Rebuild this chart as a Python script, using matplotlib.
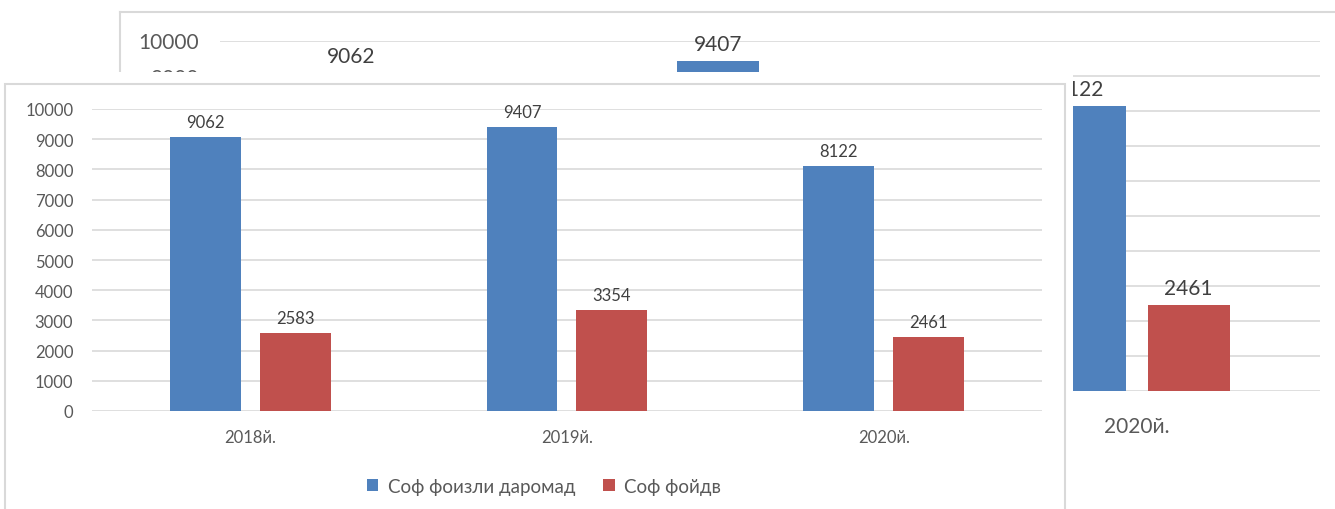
import numpy as np
import matplotlib
matplotlib.use("Agg")
import matplotlib.pyplot as plt
from matplotlib.patches import Rectangle
from matplotlib.lines import Line2D

years = ["2018й.", "2019й.", "2020й."]
income = [9062, 9407, 8122]
profit = [2583, 3354, 2461]
series_names = ["Соф фоизли даромад", "Соф фойдв"]
yticks = list(range(0, 10001, 1000))

BLUE = "#4F81BD"
RED = "#C0504D"
GRID = "#D9D9D9"
TICK = "#595959"
LABEL = "#404040"

plt.rcParams["font.family"] = ["Lato", "DejaVu Sans"]

W, H = 1335, 510
fig = plt.figure(figsize=(W / 100, H / 100), dpi=100)


def box(x0, y0, x1, y1):
    # pixel box (top-left origin) -> figure fraction rect
    return [x0 / W, 1 - y1 / H, (x1 - x0) / W, (y1 - y0) / H]


def draw_chart(ax, fs, pad_y, pad_x):
    x = np.arange(len(years))
    w = 0.224
    off = 0.142
    b1 = ax.bar(x - off, income, w, color=BLUE, zorder=2)
    b2 = ax.bar(x + off, profit, w, color=RED, zorder=2)
    t1 = ax.bar_label(b1, padding=5, fontsize=fs, color=LABEL)
    t2 = ax.bar_label(b2, padding=5, fontsize=fs, color=LABEL)
    ax.set_xlim(-0.5, 2.5)
    ax.set_ylim(0, 10000)
    ax.set_yticks(yticks)
    ax.set_xticks(x)
    ax.set_xticklabels(years)
    ax.yaxis.grid(True, color=GRID, lw=1.2, zorder=0)
    ax.set_axisbelow(True)
    for s in ax.spines.values():
        s.set_visible(False)
    ax.tick_params(axis="y", length=0, pad=pad_y, labelsize=fs, labelcolor=TICK)
    ax.tick_params(axis="x", length=0, pad=pad_x, labelsize=fs, labelcolor=TICK)
    ax.set_facecolor("none")
    return b1, b2, t1, t2


# enlarged chart behind
ax_bg = fig.add_axes(box(219.5, 41.5, 1320, 392))
ax_bg.set_zorder(0)
_, _, bg_t1, bg_t2 = draw_chart(ax_bg, 15, 14.5, 18)
# texts of the back chart that sit fully under the front one
for lab in ax_bg.get_yticklabels()[:9]:
    lab.set_visible(False)
for lab in ax_bg.get_xticklabels()[:2]:
    lab.set_visible(False)
for t in bg_t2[:2]:
    t.set_visible(False)
bg_t1[2].xyann = (-4, 5)

fig.add_artist(Line2D([120 / W, 1.0], [1 - 12.5 / H, 1 - 12.5 / H], color=GRID, lw=1.5, zorder=-1))
fig.add_artist(Line2D([120 / W, 120 / W], [1 - 12.5 / H, 0], color=GRID, lw=1.5, zorder=-1))

# white cover of the pasted chart
fig.add_artist(Rectangle((0, 0), 1073 / W, 1 - 73 / H, transform=fig.transFigure,
                         facecolor="white", edgecolor="none", zorder=2))
fig.add_artist(Rectangle((5 / W, -0.05), 1060 / W, 1.05 - 85 / H, transform=fig.transFigure,
                         facecolor="white", edgecolor=GRID, lw=1.5, zorder=2))

# front chart
ax = fig.add_axes(box(92, 110, 1042, 412))
ax.set_zorder(3)
b1, b2, _, _ = draw_chart(ax, 12, 13.5, 13)

leg = fig.legend([b1, b2], series_names, loc="center", bbox_to_anchor=(544 / W, 1 - 487 / H),
                 ncol=2, frameon=False, fontsize=13.5, handlelength=0.6, handleheight=0.6,
                 handletextpad=0.5, columnspacing=1.5, labelcolor=TICK)
leg.set_zorder(4)

fig.savefig("out.png", dpi=100)
